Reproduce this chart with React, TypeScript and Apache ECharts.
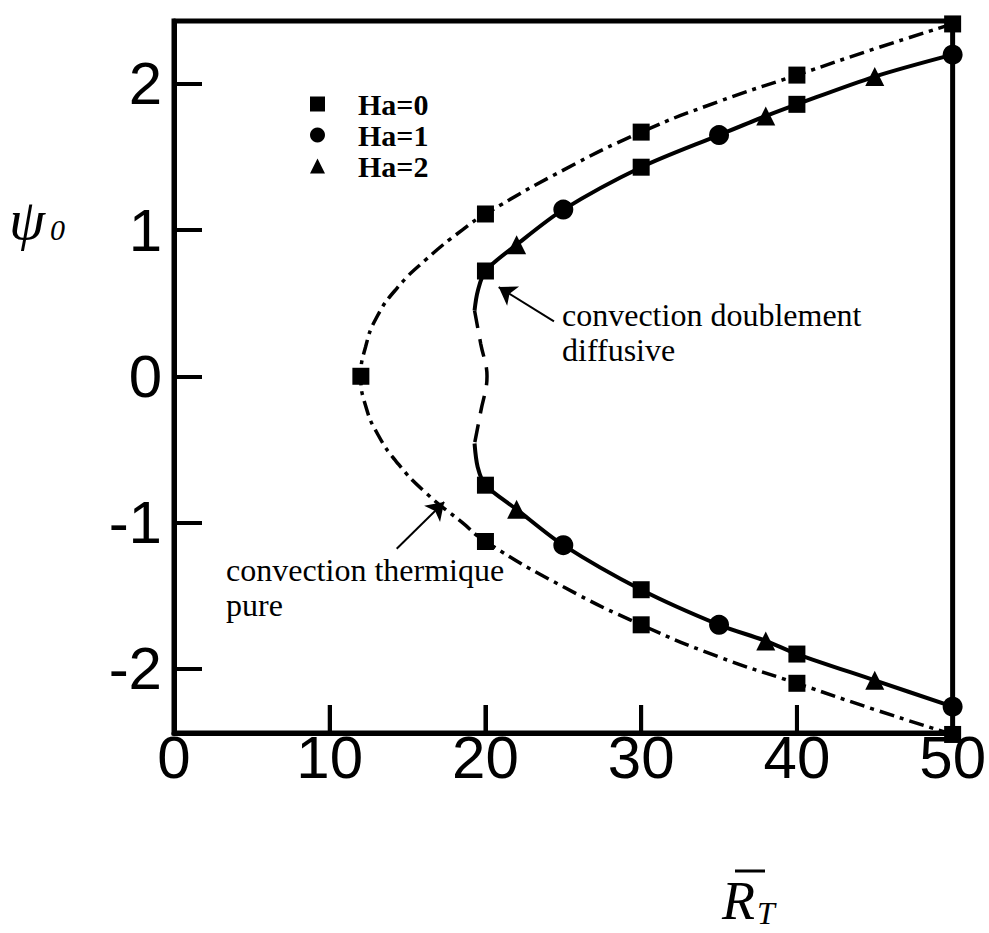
import React, { useEffect, useRef } from 'react';
import * as echarts from 'echarts';

// Tick values
const xTicks = [0, 10, 20, 30, 40, 50];
const yTicks = [-2, -1, 0, 1, 2];
const yMin = -2.44;
const yMax = 2.43;

// Curve: convection thermique pure (dash-dot)
const thermiqueCurve: [number, number][] = [
  [50, 2.41], [45, 2.24], [40, 2.06], [35, 1.88], [30, 1.67], [25, 1.41],
  [20, 1.11], [18.5, 1.0], [16.2, 0.8], [14.3, 0.6], [13, 0.4], [12.3, 0.2], [12, 0],
  [12.3, -0.2], [13.1, -0.4], [14.4, -0.6], [16.2, -0.8], [18.5, -1.0], [20, -1.13],
  [25, -1.44], [30, -1.7], [35, -1.92], [40, -2.1], [45, -2.28], [50, -2.45],
];

// Curve: convection doublement diffusive (solid upper, dashed middle, solid lower)
const doubleUpper: [number, number][] = [
  [50, 2.2], [45, 2.05], [40, 1.86], [38, 1.78], [35, 1.65], [30, 1.43],
  [25, 1.14], [22, 0.9], [20, 0.72], [19.5, 0.58], [19.3, 0.45],
];
const doubleMiddle: [number, number][] = [
  [19.3, 0.45], [19.7, 0.22], [20.1, 0], [19.7, -0.24], [19.3, -0.46],
];
const doubleLower: [number, number][] = [
  [19.3, -0.46], [19.5, -0.62], [20, -0.745], [22, -0.91], [25, -1.155],
  [30, -1.46], [35, -1.7], [38, -1.81], [40, -1.9], [45, -2.08], [50, -2.26],
];

// Markers
const ha0Points: [number, number][] = [
  [50, 2.41], [40, 2.06], [30, 1.67], [20, 1.11], [12, 0], [20, -1.13],
  [30, -1.7], [40, -2.1], [50, -2.45],
  [40, 1.86], [30, 1.43], [20, 0.72], [20, -0.745], [30, -1.46], [40, -1.9],
];
const ha1Points: [number, number][] = [
  [50, 2.2], [35, 1.65], [25, 1.14], [25, -1.155], [35, -1.7], [50, -2.26],
];
const ha2Points: [number, number][] = [
  [45, 2.05], [38, 1.78], [22, 0.9], [22, -0.91], [38, -1.81], [45, -2.08],
];

// Annotation arrows (tail -> head), in data coordinates
const arrowDoublement: [number, number][] = [[24.4, 0.375], [20.85, 0.61]];
const arrowThermique: [number, number][] = [[14.3, -1.18], [17.35, -0.86]];

const seriesNames = ['Ha=0', 'Ha=1', 'Ha=2'];

export default function App() {
  const ref = useRef<HTMLDivElement>(null);

  useEffect(() => {
    document.body.style.margin = '0';
    const chart = echarts.init(ref.current!, null, { renderer: 'svg' });
    const serif = '"Liberation Serif", "Times New Roman", serif';
    const sans = '"Liberation Sans", Arial, sans-serif';

    const gridTop = 21;
    const gridBottom = 200;
    const plotHeight = 933 - gridTop - gridBottom;
    const tickLenPx = 28;
    const tickLenData = (tickLenPx * (yMax - yMin)) / plotHeight;

    const arrowLine = (pts: [number, number][]) => ({
      silent: true,
      symbol: ['none', 'arrow'],
      symbolSize: 17,
      label: { show: false },
      itemStyle: { color: '#000' },
      lineStyle: { type: 'solid', color: '#000', width: 2 },
      data: [[{ coord: pts[0] }, { coord: pts[1] }]],
    });

    // Inward ticks on the bottom axis, drawn as short line series through the axis scale
    const bottomTickSeries = xTicks
      .filter((v) => v > xTicks[0] && v < xTicks[xTicks.length - 1])
      .map((v) => ({
        type: 'line',
        name: 'tick' + v,
        silent: true,
        clip: false,
        z: 10,
        symbol: 'none',
        showSymbol: false,
        data: [[v, yMin], [v, yMin + tickLenData]],
        lineStyle: { color: '#000', width: 4, type: 'solid' },
      }));

    const option: any = {
      animation: false,
      backgroundColor: '#fff',
      grid: {
        left: 174, right: 33, top: gridTop, bottom: gridBottom,
        show: true, borderColor: '#000', borderWidth: 5,
      },
      legend: {
        orient: 'vertical',
        left: 305,
        top: 84,
        itemWidth: 15,
        itemHeight: 15,
        itemGap: 1,
        selectedMode: false,
        data: seriesNames,
        textStyle: {
          fontFamily: serif, fontWeight: 'bold', fontSize: 30, color: '#000',
          padding: [0, 0, 0, 28],
        },
      },
      xAxis: {
        type: 'value',
        min: 0, max: 50, interval: 10,
        axisLine: { show: true, onZero: false, lineStyle: { color: '#000', width: 5 } },
        splitLine: { show: false },
        axisTick: {
          show: true, inside: true, length: tickLenPx,
          lineStyle: { color: '#000', width: 4 },
        },
        axisLabel: {
          fontFamily: sans, fontSize: 60, color: '#000', margin: 2,
          lineHeight: 44, verticalAlign: 'top',
        },
      },
      yAxis: {
        type: 'value',
        min: yMin, max: yMax,
        axisLine: { show: true, onZero: false, lineStyle: { color: '#000', width: 5 } },
        splitLine: { show: false },
        axisTick: {
          show: true, inside: true, length: tickLenPx,
          lineStyle: { color: '#000', width: 4 },
          customValues: yTicks,
        },
        axisLabel: {
          fontFamily: sans, fontSize: 60, color: '#000', margin: 12,
          customValues: yTicks,
        },
      },
      series: [
        {
          type: 'line', name: 'thermique', data: thermiqueCurve, smooth: 0.5,
          showSymbol: false, symbol: 'none',
          lineStyle: { color: '#000', width: 3.5, type: [15, 6, 4, 6] },
          markLine: arrowLine(arrowThermique),
        },
        {
          type: 'line', name: 'upper', data: doubleUpper, smooth: 0.3,
          showSymbol: false, symbol: 'none',
          lineStyle: { color: '#000', width: 4, type: 'solid' },
          markLine: arrowLine(arrowDoublement),
        },
        {
          type: 'line', name: 'middle', data: doubleMiddle, smooth: 0.4,
          showSymbol: false, symbol: 'none',
          lineStyle: { color: '#000', width: 3.5, type: [18, 11] },
        },
        {
          type: 'line', name: 'lower', data: doubleLower, smooth: 0.3,
          showSymbol: false, symbol: 'none',
          lineStyle: { color: '#000', width: 4, type: 'solid' },
        },
        ...bottomTickSeries,
        {
          type: 'scatter', name: 'Ha=0', data: ha0Points, symbol: 'rect', symbolSize: 17,
          itemStyle: { color: '#000', opacity: 1 }, clip: false, z: 5,
        },
        {
          type: 'scatter', name: 'Ha=1', data: ha1Points, symbol: 'circle', symbolSize: 20,
          itemStyle: { color: '#000', opacity: 1 }, clip: false, z: 5,
        },
        {
          type: 'scatter', name: 'Ha=2', data: ha2Points, symbol: 'triangle', symbolSize: 19,
          itemStyle: { color: '#000', opacity: 1 }, clip: false, z: 5,
        },
      ],
      graphic: [
        {
          type: 'text', left: 9, top: 190,
          style: { text: 'ψ', fontFamily: serif, fontStyle: 'italic', fontSize: 58, fill: '#000' },
        },
        {
          type: 'text', left: 50, top: 214,
          style: { text: '0', fontFamily: serif, fontStyle: 'italic', fontSize: 30, fill: '#000' },
        },
        {
          type: 'text', left: 722, top: 874,
          style: { text: 'R', fontFamily: serif, fontStyle: 'italic', fontSize: 54, fill: '#000' },
        },
        {
          type: 'line', shape: { x1: 735, y1: 871, x2: 765, y2: 871 },
          style: { stroke: '#000', lineWidth: 3 },
        },
        {
          type: 'text', left: 757, top: 897,
          style: { text: 'T', fontFamily: serif, fontStyle: 'italic', fontSize: 32, fill: '#000' },
        },
        {
          type: 'text', left: 562, top: 297,
          style: {
            text: 'convection doublement\ndiffusive', fontFamily: serif, fontSize: 32,
            lineHeight: 35, fill: '#000',
          },
        },
        {
          type: 'text', left: 226, top: 552,
          style: {
            text: 'convection thermique\npure', fontFamily: serif, fontSize: 32,
            lineHeight: 35, fill: '#000',
          },
        },
      ],
    };

    chart.setOption(option);
    return () => chart.dispose();
  }, []);

  return (
    <div
      ref={ref}
      style={{ position: 'absolute', left: 0, top: 0, width: 989, height: 933 }}
    />
  );
}
